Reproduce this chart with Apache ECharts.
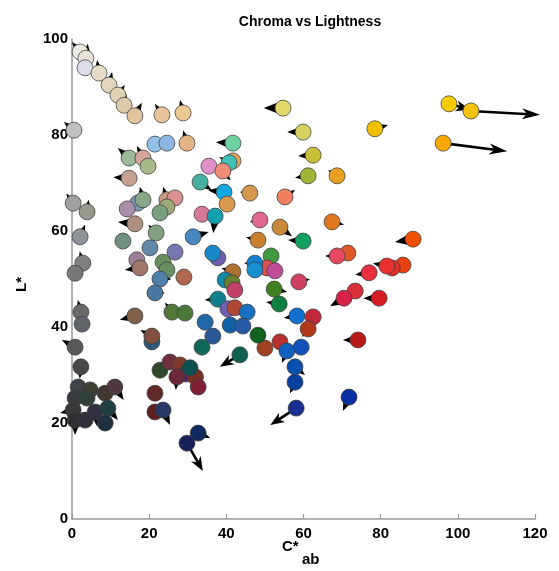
<!DOCTYPE html>
<html>
<head>
<meta charset="utf-8">
<script src="https://cdn.jsdelivr.net/npm/echarts@6/dist/echarts.min.js"></script>
<style>html,body{margin:0;padding:0;background:#fff;}#chart{width:559px;height:571px;}</style>
</head>
<body>
<div id="chart"></div>
<script>
// Chroma C*ab of each sample
var chroma = [2.1,3.6,3.4,7.0,9.6,11.9,13.5,16.3,23.3,28.8,0.5,21.5,24.6,29.8,41.7,14.8,18.4,19.7,14.8,35.5,41.7,40.7,39.1,33.2,39.4,40.2,17.0,18.4,24.6,26.7,24.6,22.8,14.3,16.3,13.2,21.8,20.2,26.7,33.7,37.1,31.4,37.8,36.5,54.7,59.9,62.5,61.2,68.7,78.5,97.7,103.4,96.2,46.1,55.2,48.7,53.9,48.2,59.9,67.4,88.4,71.5,68.7,77.0,85.8,83.0,81.6,73.4,70.5,79.6,58.8,51.6,50.5,52.6,52.4,53.7,58.3,62.5,61.2,74.1,53.9,50.0,55.7,59.4,57.8,57.8,71.8,58.1,48.2,41.7,47.4,47.4,39.7,41.5,42.2,37.8,40.4,42.2,45.4,34.5,41.0,44.3,36.5,43.5,33.7,16.8,17.6,23.6,24.6,22.8,29.0,21.5,25.9,29.3,16.3,20.7,20.7,22.8,25.4,28.0,29.5,32.0,30.6,27.2,32.7,21.5,21.5,23.6,32.7,29.8,0.3,3.9,2.1,2.8,0.8,2.3,2.6,0.8,2.3,1.6,4.7,8.6,11.1,0.8,3.9,0.3,6.0,9.3,0.8,3.4,8.6];
// Lightness L* of each sample
var lightness = [97.3,96.0,94.0,92.9,90.4,88.3,86.2,84.0,84.2,84.6,81.0,78.1,78.3,78.3,78.3,75.2,75.2,73.5,71.0,73.5,74.6,74.2,72.5,70.2,68.1,65.6,65.8,66.5,66.5,66.9,65.0,63.8,64.6,61.5,57.9,59.6,56.5,55.6,63.5,63.1,58.8,54.4,55.4,85.6,80.6,75.8,71.5,71.5,81.3,86.5,85.0,78.3,67.9,67.1,62.3,60.8,58.1,57.9,61.9,58.3,55.4,54.8,51.3,52.9,52.3,52.7,47.5,46.0,46.0,49.4,54.8,52.3,51.7,47.9,44.8,42.3,42.1,39.6,37.3,36.9,35.6,35.0,35.8,31.7,28.5,25.4,23.1,38.3,51.5,53.3,51.9,49.8,49.2,47.7,45.8,43.8,44.0,43.1,41.0,40.4,40.2,38.1,34.2,35.8,54.0,52.3,53.5,51.9,50.0,50.4,47.1,43.1,42.9,42.3,36.9,38.1,31.0,32.7,32.1,30.2,29.6,31.5,29.6,27.5,26.2,22.3,22.7,17.9,15.8,65.8,64.0,58.8,53.3,51.2,43.1,40.6,35.8,31.7,27.5,26.9,26.2,27.5,25.2,25.2,22.7,22.3,23.1,20.6,20.6,20.0];
// Arrow components (change in C*ab and in L*)
var deltaC = [-2.1,0.5,0,-0.5,0.8,1.8,0.5,1.8,-1.8,-0.8,-2.6,0,0,-1.0,-4.4,-2.9,-1.6,0,-4.1,0,0,-2.5,2.0,3.0,-4.1,0,0,-0.8,-1.0,0,0,0,0,-4.4,0,-2.0,0,0,0,-0.5,4.0,0,0,-5.0,-4.1,-3.9,-3.4,-2.3,3.4,5.4,17.9,16.6,-2.6,2.6,-2.6,3.1,-3.1,-3.9,3.1,-4.7,0,-3.1,-3.6,1.8,0,-3.6,0,-3.6,-4.1,2.9,0,0,0,3.4,-3.4,-3.4,1.8,-1.6,-3.9,0,0,-1.3,0,2.6,-1.3,-1.6,-6.7,0,-3.0,-2.8,0,0,0,0,-3.4,0,0,0,0,0,0,0,-5.2,0,0,-3.9,0,0,3.0,0,2.6,-1.8,0,-3.9,0,-3.0,0,0,0,0,0,0,-0.3,0,0,0,1.8,3.1,4.1,-1.8,0.4,1.3,-0.8,0,-0.8,0,-3.4,-0.3,0,0,0,2.3,0,0,-3.4,0.5,2.6,0,0,0];
var deltaL = [2.1,3.0,0,2.7,2.7,2.1,2.5,2.7,2.3,2.7,1.7,0,0,2.7,0.2,2.1,2.5,0,0.2,0,0,1.2,-2.0,-1.7,0.4,0,0,2.7,2.7,0,0,0,0,0.4,0,1.7,0,0,0,-3.5,1.0,0,0,0,0,-0.2,-0.4,1.2,0.8,-1.2,-0.8,-1.7,0.2,1.5,-0.4,-1.9,0.6,0.2,-0.6,-0.6,0,0,-0.4,0.6,0,0.6,0,-1.7,0,0.6,0,0,0,-0.6,0.4,-0.4,0,-1.7,0,0,0,-2.5,0,-1.7,-2.3,-2.9,-3.5,0,0.8,0,0,0,0,0,-0.2,0,0,0,0,0,0,0,-2.5,0,0,-0.4,0,0,0,0,0,2.0,0,-0.8,0,1.3,0,0,0,0,0,0,-2.7,0,0,0,-3.1,-1.0,-5.8,2.0,2.5,2.5,2.5,0,2.5,0,1.5,-2.5,0,0,0,-2.7,0,0,-0.6,-3.0,-2.5,-3.1,0,0];
// Colour of each sample
var sampleColors = ['#ecebe6','#e6e2da','#dcdde9','#e5dcc8','#e3d6bf','#e1d2b6','#dccaa9','#e2c49f','#e8c49a','#ecc892','#c0c0c0','#92c0e6','#8cb6e2','#e4b486','#6cd2a0','#9cb898','#d4a69c','#a8b888','#c4a090','#e090c8','#e4a458','#40c0b8','#f08c78','#48b0a0','#10a8e0','#d89850','#7898b8','#88a888','#c89880','#d89090','#a0a878','#78a080','#a890a8','#b09080','#709080','#80a080','#6088a8','#7878b0','#d87898','#10a0b0','#4888c0','#7060b0','#1888c8','#e0d868','#d8d060','#c8c038','#a0b438','#e8a020','#f0c000','#f8cc00','#f4c410','#f8a800','#d49850','#f08060','#e06890','#c88838','#c88030','#10a060','#e07820','#f05000','#e05828','#e84860','#e83040','#e84010','#e03028','#e83030','#d83038','#d82048','#d81c24','#d04060','#409840','#e05050','#c04c98','#408020','#108040','#1070d0','#c02838','#b03818','#b81818','#b83030','#a04020','#1060c0','#1050b8','#0850b0','#0840a0','#0830a0','#183090','#106020','#b07030','#1080d0','#1890d0','#1088a8','#6a8030','#c04068','#10808f','#7060b8','#b04838','#1870c0','#2068a8','#1060a8','#2858a8','#285898','#106050','#106858','#a08098','#a07868','#6a9060','#689060','#5080a8','#b06850','#4878a0','#507838','#4a7838','#806048','#305878','#805040','#304828','#703040','#803828','#502868','#7a3020','#0c5050','#6a2838','#802038','#602828','#602020','#283868','#102860','#182058','#a0a0a0','#989890','#909498','#808080','#787878','#686868','#606468','#585858','#484848','#404448','#404038','#403830','#503840','#383c40','#304038','#383838','#303040','#204040','#303030','#303038','#203040'];
var xTicks = [0,20,40,60,80,100,120];
var yTicks = [0,20,40,60,80,100];

var pointData = chroma.map(function (c, i) { return [c, lightness[i]]; });
var arrowData = chroma.map(function (c, i) { return [c, lightness[i], deltaC[i], deltaL[i]]; });

function renderArrow(params, api) {
  var x = api.value(0), y = api.value(1), dx = api.value(2), dy = api.value(3);
  if (!dx && !dy) return null;
  var p0 = api.coord([x, y]);
  var p1 = api.coord([x + dx, y + dy]);
  var vx = p1[0] - p0[0], vy = p1[1] - p0[1];
  var len = Math.sqrt(vx * vx + vy * vy);
  if (len < 1) return null;
  var ux = vx / len, uy = vy / len, nx = -uy, ny = ux;
  var L = len > 40 ? 18 : 14;
  var W = len > 40 ? 11 : 11;
  var bx = p1[0] - ux * L, by = p1[1] - uy * L;
  var pts = [
    [p1[0], p1[1]],
    [bx + nx * W / 2, by + ny * W / 2],
    [p1[0] - ux * L * 0.72, p1[1] - uy * L * 0.72],
    [bx - nx * W / 2, by - ny * W / 2]
  ];
  return {
    type: 'group',
    children: [
      { type: 'line', shape: { x1: p0[0], y1: p0[1], x2: p1[0] - ux * L * 0.6, y2: p1[1] - uy * L * 0.6 },
        style: { stroke: '#000', lineWidth: 2.6 } },
      { type: 'polygon', shape: { points: pts }, style: { fill: '#000' } }
    ]
  };
}

var chart = echarts.init(document.getElementById('chart'), null, { renderer: 'canvas' });
var axisFont = 'Liberation Sans, Arial, Helvetica, sans-serif';
chart.setOption({
  animation: false,
  backgroundColor: '#ffffff',
  title: {
    text: 'Chroma vs Lightness',
    left: 305, top: 10, textAlign: 'center',
    textStyle: { fontSize: 14, fontWeight: 'bold', color: '#000', fontFamily: axisFont }
  },
  grid: { left: 72, right: 24, top: 39, bottom: 52, containLabel: false },
  xAxis: {
    type: 'value', min: 0, max: 120, interval: 20,
    axisLine: { show: true, onZero: false, lineStyle: { color: '#9a9a9a', width: 1.5 } },
    axisTick: { show: true, inside: true, length: 5, lineStyle: { color: '#9a9a9a', width: 1.2 } },
    axisLabel: { margin: 7, fontSize: 15, fontWeight: 'bold', color: '#000', fontFamily: axisFont,
      formatter: function (v) { return xTicks.indexOf(v) >= 0 ? String(v) : ''; } },
    splitLine: { show: false }
  },
  yAxis: {
    type: 'value', min: 0, max: 100, interval: 20,
    axisLine: { show: true, onZero: false, lineStyle: { color: '#9a9a9a', width: 1.5 } },
    axisTick: { show: false },
    axisLabel: { margin: 4, fontSize: 15, fontWeight: 'bold', color: '#000', fontFamily: axisFont,
      formatter: function (v) { return yTicks.indexOf(v) >= 0 ? String(v) : ''; } },
    splitLine: { show: false }
  },
  graphic: [
    { type: 'text', left: 282, top: 539, style: { text: 'C*', fill: '#000', font: 'bold 15px ' + axisFont } },
    { type: 'text', left: 302, top: 552, style: { text: 'ab', fill: '#000', font: 'bold 15px ' + axisFont } },
    { type: 'text', x: 14, y: 292, rotation: Math.PI / 2, style: { text: 'L*', fill: '#000', font: 'bold 15px ' + axisFont } }
  ],
  series: [
    {
      type: 'custom', name: 'shift', renderItem: renderArrow, data: arrowData,
      encode: { x: 0, y: 1 }, clip: false, z: 2, silent: true
    },
    {
      type: 'scatter', name: 'samples', data: pointData, symbol: 'circle', symbolSize: 16, z: 3,
      itemStyle: {
        color: function (p) { return sampleColors[p.dataIndex]; },
        borderColor: 'rgba(60,60,60,0.75)', borderWidth: 1, opacity: 1
      },
      emphasis: { disabled: true }
    }
  ]
});
</script>
</body>
</html>
